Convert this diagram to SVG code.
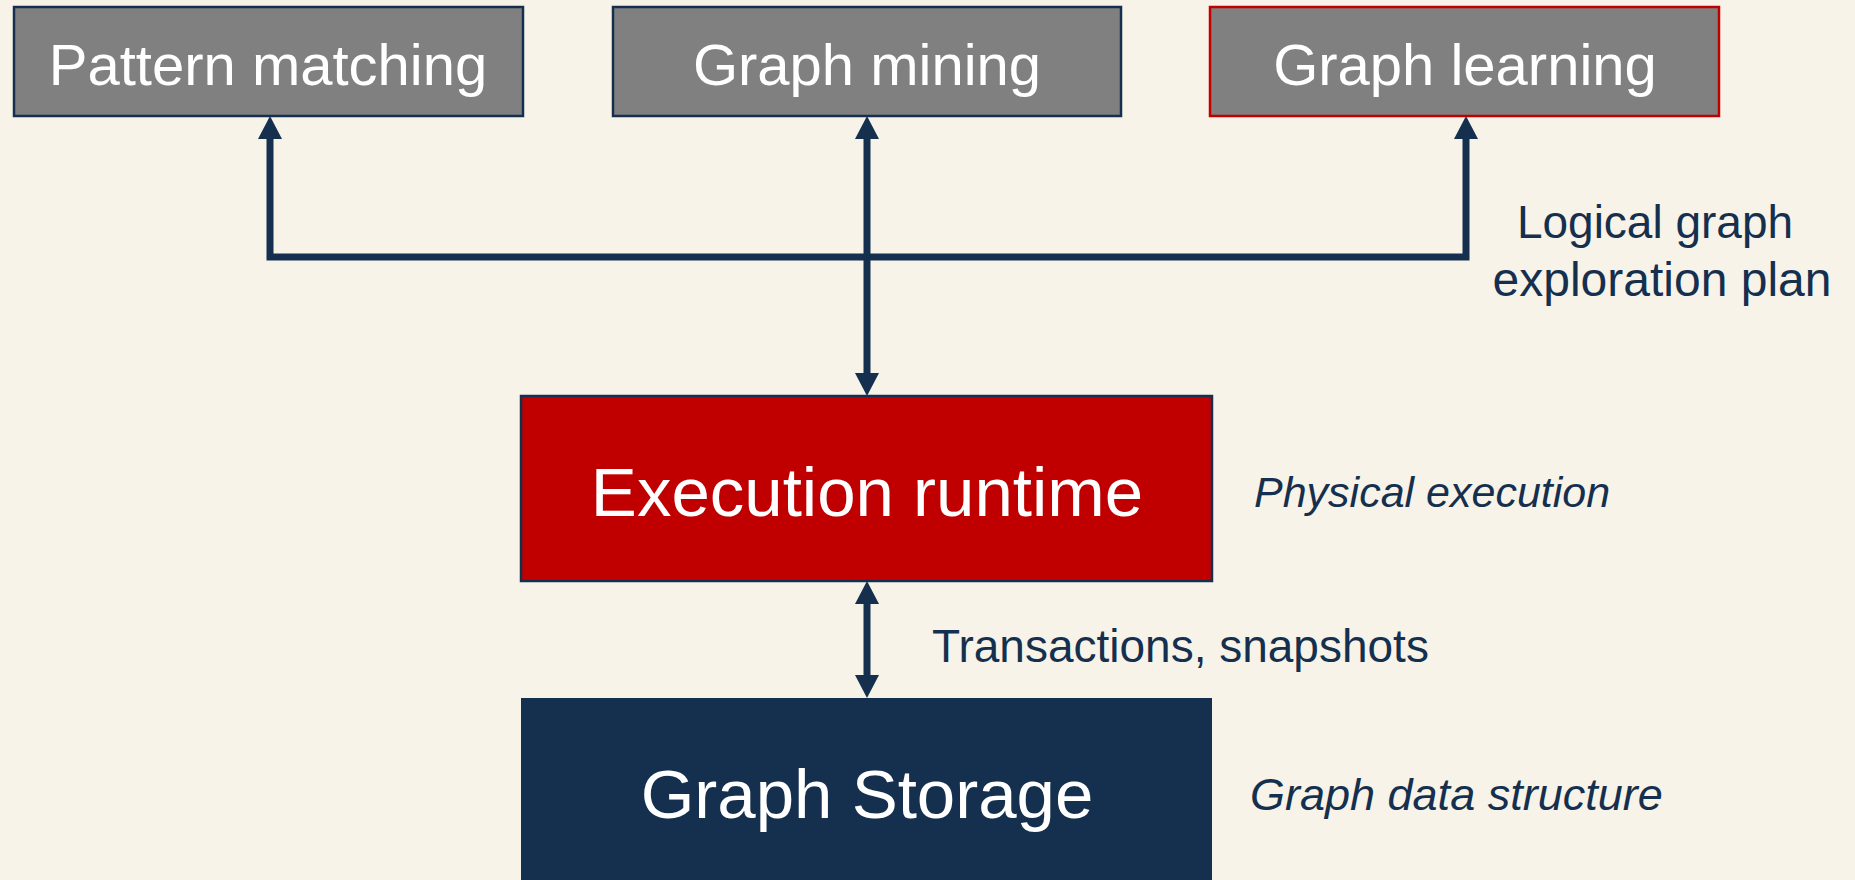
<svg xmlns="http://www.w3.org/2000/svg" width="1855" height="880" viewBox="0 0 1855 880">
  <style>
    .bg { fill: #f8f3e8; }
    .app rect { fill: #808080; stroke: #15304f; stroke-width: 2.5; }
    #graph-learning rect { stroke: #c00000; }
    .label-node { font-family: "Liberation Sans", Arial, sans-serif; fill: #ffffff; text-anchor: middle; }
    .note { font-family: "Liberation Sans", Arial, sans-serif; fill: #15304f; }
    .note-i { font-style: italic; }
    .wire { fill: none; stroke: #15304f; stroke-width: 7; stroke-linejoin: miter; stroke-linecap: butt; }
  </style>
  <defs>
    <marker id="head" viewBox="0 0 23 24" refX="0" refY="12" markerUnits="userSpaceOnUse" markerWidth="23" markerHeight="24" orient="auto-start-reverse">
      <path d="M0,0 L23,12 L0,24 Z" fill="#15304f"/>
    </marker>
  </defs>

  <rect class="bg" x="0" y="0" width="1855" height="880"/>

  <!-- connectors -->
  <g id="connectors">
    <path class="wire" d="M867,257 H270 V139" marker-end="url(#head)"/>
    <path class="wire" d="M867,257 H1466 V139" marker-end="url(#head)"/>
    <path class="wire" d="M867,139 V373" marker-start="url(#head)" marker-end="url(#head)"/>
    <path class="wire" d="M867,604 V675" marker-start="url(#head)" marker-end="url(#head)"/>
  </g>

  <!-- application layer -->
  <g id="pattern-matching" class="app">
    <rect x="14" y="7" width="509" height="109"/>
    <text class="label-node" x="268" y="85" font-size="58">Pattern matching</text>
  </g>
  <g id="graph-mining" class="app">
    <rect x="613" y="7" width="508" height="109"/>
    <text class="label-node" x="867" y="85" font-size="58">Graph mining</text>
  </g>
  <g id="graph-learning" class="app">
    <rect x="1210" y="7" width="509" height="109"/>
    <text class="label-node" x="1465" y="85" font-size="58">Graph learning</text>
  </g>

  <g id="plan-label">
    <text class="note" x="1655" y="238" font-size="46" text-anchor="middle">Logical graph</text>
    <text class="note" x="1662" y="296" font-size="48" text-anchor="middle">exploration plan</text>
  </g>

  <!-- runtime -->
  <g id="execution-runtime">
    <rect x="521" y="396" width="691" height="185" fill="#c00000" stroke="#15304f" stroke-width="2.5"/>
    <text class="label-node" x="867" y="516" font-size="69">Execution runtime</text>
  </g>
  <text class="note note-i" x="1254" y="507" font-size="43">Physical execution</text>

  <text class="note" x="932" y="662" font-size="46">Transactions, snapshots</text>

  <!-- storage -->
  <g id="graph-storage">
    <rect x="521" y="698" width="691" height="190" fill="#15304f"/>
    <text class="label-node" x="867" y="818" font-size="69">Graph Storage</text>
  </g>
  <text class="note note-i" x="1250" y="810" font-size="45">Graph data structure</text>
</svg>
